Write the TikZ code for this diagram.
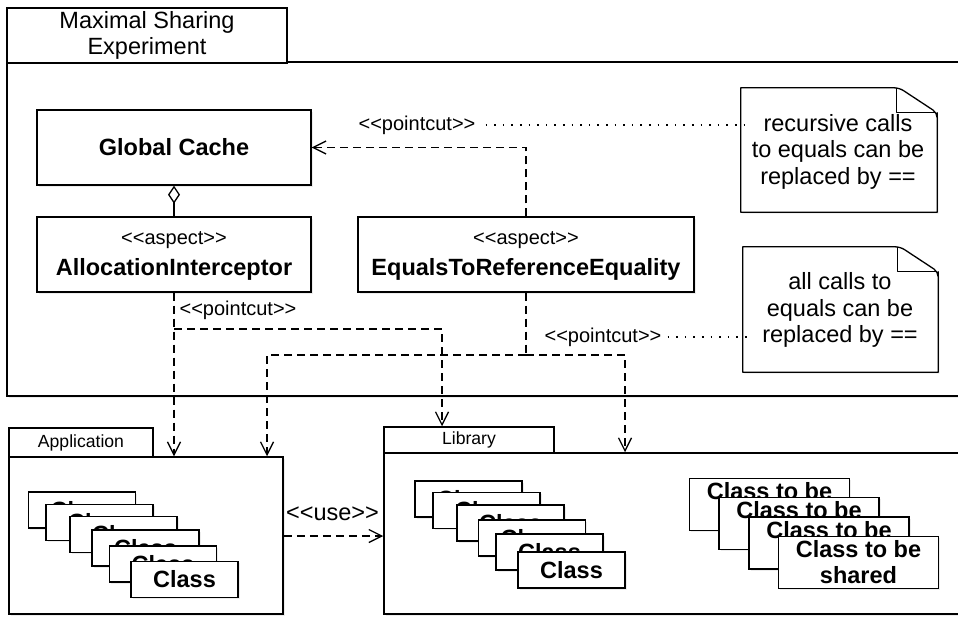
\documentclass[tikz,border=0pt]{standalone}
\usepackage{fontspec}
\setmainfont{Liberation Sans}[Ligatures=TeXOff]
\usetikzlibrary{arrows.meta,shadows,calc}
\begin{document}
\begin{tikzpicture}[x=1pt,y=-1pt,
  shad/.style={drop shadow={opacity=0.15, shadow xshift=1.5pt, shadow yshift=-1.5pt}},
  frame/.style={draw, line width=1.5pt, fill=white, inner sep=0pt, shad},
  tab/.style={draw, line width=1.5pt, fill=white, inner sep=0pt, align=center},
  umlbox/.style={draw, line width=1.3pt, fill=white, inner sep=0pt, shad},
  big/.style={font=\fontsize{23.5}{26.5}\selectfont},
  bigbold/.style={font=\fontsize{23.5}{26}\selectfont\bfseries},
  stereo/.style={font=\fontsize{20}{24}\selectfont, inner sep=2pt},
  small/.style={font=\fontsize{17.6}{20}\selectfont},
  clsbox/.style={umlbox, minimum width=107pt, minimum height=36pt, bigbold},
  sharebox/.style={umlbox, minimum width=160pt, minimum height=52pt, bigbold, align=center},
  notebox/.style={inner sep=0pt, big, align=center},
  noteline/.style={draw, line width=1.3pt, fill=white, line join=round, shad},
  dashln/.style={draw, line width=1.3pt, dash pattern=on 8pt off 5pt},
  dep/.style={dashln, -{Straight Barb[length=13pt,width=13pt]}},
  dotln/.style={draw, line width=1.3pt, dash pattern=on 1.6pt off 7pt}
]
\useasboundingbox (0,0) rectangle (958,616);
\clip (0,0) rectangle (958,616);

% main package
\node[frame, minimum width=968pt, minimum height=334pt] (mainbody) at (491,229) {};
\node[tab, minimum width=280pt, minimum height=55pt, big] (maintab) at (147,35.5) {Maximal Sharing\\Experiment};

% application package
\node[frame, minimum width=274pt, minimum height=157pt] (appbody) at (146,535.5) {};
\node[tab, minimum width=144pt, minimum height=29pt, small] (apptab) at (81,442.5) {Application};

% library package
\node[frame, minimum width=591pt, minimum height=161pt] (libbody) at (679.5,533.5) {};
\node[tab, minimum width=170pt, minimum height=26pt, small] (libtab) at (469,440) {Library};

% classes in main package
\node[umlbox, minimum width=274pt, minimum height=75pt] (gc) at (174,147.5) {};
\node[bigbold, anchor=base, inner sep=0pt] (gctext) at (174,155) {Global Cache};

\node[umlbox, minimum width=274pt, minimum height=75pt] (ai) at (174,254.5) {};
\node[stereo, anchor=base, inner sep=0pt] (aistereo) at (174,244) {<<aspect>>};
\node[bigbold, anchor=base, inner sep=0pt] (aitext) at (174,275) {AllocationInterceptor};

\node[umlbox, minimum width=336pt, minimum height=75pt] (eq) at (526,254.5) {};
\node[stereo, anchor=base, inner sep=0pt] (eqstereo) at (526,244) {<<aspect>>};
\node[bigbold, anchor=base, inner sep=0pt] (eqtext) at (526,275) {EqualsToReferenceEquality};

% notes
\node[minimum width=196pt, minimum height=124pt, inner sep=0pt] (n1) at (839,150) {};
\path[noteline] (n1.north west) -- ($(n1.north east)+(-42,0)$) {[rounded corners=5pt] -- ($(n1.north east)+(-38,0)$) -- ($(n1.north east)+(0,25)$) -- ($(n1.north east)+(0,30)$)} -- (n1.south east) -- (n1.south west) -- cycle;
\draw[line width=1.3pt, line join=round] ($(n1.north east)+(-41,0)$) -- ($(n1.north east)+(-41,25)$) -- ($(n1.north east)+(-2,25)$);
\node[notebox] (n1text) at (838,151.5) {recursive calls\\to equals can be\\replaced by ==};

\node[minimum width=195pt, minimum height=125pt, inner sep=0pt] (n2) at (840.5,309.5) {};
\path[noteline] (n2.north west) -- ($(n2.north east)+(-42,0)$) {[rounded corners=5pt] -- ($(n2.north east)+(-38,0)$) -- ($(n2.north east)+(0,25)$) -- ($(n2.north east)+(0,30)$)} -- (n2.south east) -- (n2.south west) -- cycle;
\draw[line width=1.3pt, line join=round] ($(n2.north east)+(-41,0)$) -- ($(n2.north east)+(-41,25)$) -- ($(n2.north east)+(-2,25)$);
\node[notebox] (n2text) at (840,310) {all calls to\\equals can be\\replaced by ==};

% application classes
\node[clsbox] (a1) at (82,510) {Class};
\node[clsbox] (a2) at (99.5,522.5) {Class};
\node[clsbox] (a3) at (123.5,534.5) {Class};
\node[clsbox] (a4) at (145.5,548) {Class};
\node[clsbox] (a5) at (163,564) {Class};
\node[clsbox] (a6) at (184.5,579.5) {Class};

% library classes
\node[clsbox] (l1) at (468.5,499) {Class};
\node[clsbox] (l2) at (486.5,510.5) {Class};
\node[clsbox] (l3) at (510.5,523) {Class};
\node[clsbox] (l4) at (532,538) {Class};
\node[clsbox] (l5) at (549.5,552) {Class};
\node[clsbox] (l6) at (571.5,570) {Class};

% shared classes
\node[sharebox] (s1) at (769.5,504.5) {Class to be\\shared};
\node[sharebox] (s2) at (799,523.5) {Class to be\\shared};
\node[sharebox] (s3) at (829,543) {Class to be\\shared};
\node[sharebox] (s4) at (858.5,562.5) {Class to be\\shared};

% labels
\node[stereo] (pc1) at (417,125) {<<pointcut>>};
\node[stereo] (pc2) at (238,310) {<<pointcut>>};
\node[stereo] (pc3) at (603,337) {<<pointcut>>};
\node[big, inner sep=2pt] (use) at (332.5,514) {<<use>>};

% coordinates
\coordinate (c1) at (442,329);
\coordinate (c2) at (267,355);
\coordinate (c3) at (625,355);
\coordinate (uy) at (0,536);

% connectors
\draw[line width=1.3pt, {Diamond[open,length=18pt,width=12pt]}-] (gc.south) -- (ai.north);
\draw[dep] (eq.north) |- (gc.east);
\draw[dep] (ai.south) -- (ai.south |- appbody.north);
\draw[dep] (ai.south |- c1) -- (c1) -- (c1 |- libtab.north);
\path[dashln] (eq.south) -- (eq.south |- c2);
\draw[dep] (eq.south |- c2) -- (c2) -- (c2 |- appbody.north);
\draw[dep] (eq.south |- c3) -- (c3) -- (c3 |- libbody.north);
\draw[dep] (appbody.east |- uy) -- (libbody.west |- uy);
\path[dotln] ([xshift=8pt]pc1.east) -- ([xshift=8pt]pc1.east -| n1.west);
\path[dotln] ([xshift=4pt]pc3.east) -- ([xshift=4pt]pc3.east -| n2.west);
\end{tikzpicture}
\end{document}
